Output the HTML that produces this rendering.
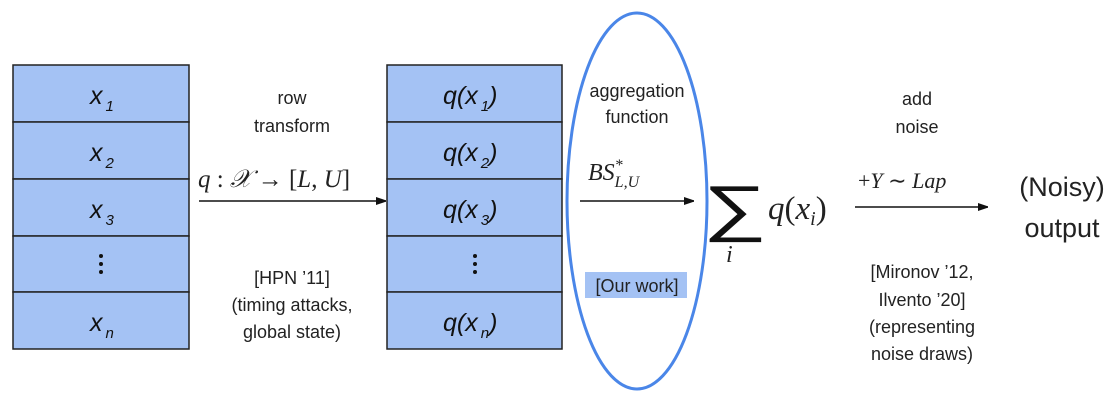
<!DOCTYPE html>
<html><head><style>
body{margin:0;background:#fff;}
svg text{font-family:"Liberation Sans",sans-serif;}
.c{font-family:"DejaVu Sans","Liberation Sans",sans-serif;font-size:18px;fill:#222;}
.m{font-family:"Liberation Serif",serif;font-style:italic;fill:#222;}
.t{font-style:italic;font-size:25px;fill:#111;}
</style></head><body>
<svg width="1116" height="406" viewBox="0 0 1116 406" xmlns="http://www.w3.org/2000/svg">
<defs><marker id="a" markerWidth="10" markerHeight="8" refX="10" refY="4" orient="auto" markerUnits="userSpaceOnUse"><path d="M0,0 L12,4 L0,8z" fill="#111"/></marker></defs>
<g stroke="#222" stroke-width="1.5" fill="#a4c2f4">
<rect x="13" y="65" width="176" height="57"/><rect x="13" y="122" width="176" height="57"/><rect x="13" y="179" width="176" height="57"/><rect x="13" y="236" width="176" height="56"/><rect x="13" y="292" width="176" height="57"/>
<rect x="387" y="65" width="175" height="57"/><rect x="387" y="122" width="175" height="57"/><rect x="387" y="179" width="175" height="57"/><rect x="387" y="236" width="175" height="56"/><rect x="387" y="292" width="175" height="57"/>
</g>
<g class="t">
<text x="90" y="104">x<tspan font-size="15" dx="3" dy="7">1</tspan></text>
<text x="90" y="161">x<tspan font-size="15" dx="3" dy="7">2</tspan></text>
<text x="90" y="218">x<tspan font-size="15" dx="3" dy="7">3</tspan></text>
<text x="90" y="331">x<tspan font-size="15" dx="3" dy="7">n</tspan></text>
<text x="443" y="104">q(x<tspan font-size="15" dx="3" dy="7">1</tspan><tspan dy="-7">)</tspan></text>
<text x="443" y="161">q(x<tspan font-size="15" dx="3" dy="7">2</tspan><tspan dy="-7">)</tspan></text>
<text x="443" y="218">q(x<tspan font-size="15" dx="3" dy="7">3</tspan><tspan dy="-7">)</tspan></text>
<text x="443" y="331">q(x<tspan font-size="15" dx="3" dy="7">n</tspan><tspan dy="-7">)</tspan></text>
</g>
<g fill="#111"><circle cx="101" cy="256" r="2"/><circle cx="101" cy="264" r="2"/><circle cx="101" cy="272" r="2"/>
<circle cx="475" cy="256" r="2"/><circle cx="475" cy="264" r="2"/><circle cx="475" cy="272" r="2"/></g>
<ellipse cx="637" cy="201" rx="70" ry="188" fill="none" stroke="#4a86e8" stroke-width="3"/>
<g stroke="#111" stroke-width="1.5" marker-end="url(#a)">
<line x1="199" y1="201" x2="386" y2="201"/><line x1="580" y1="201" x2="694" y2="201"/><line x1="855" y1="207" x2="988" y2="207"/>
</g>
<g class="c" text-anchor="middle">
<text x="292" y="104">row</text><text x="292" y="132">transform</text>
<text x="292" y="284">[HPN ’11]</text><text x="292" y="311">(timing attacks,</text><text x="292" y="338">global state)</text>
<text x="637" y="97">aggregation</text><text x="637" y="123">function</text>
<rect x="585" y="272" width="102" height="26" fill="#a4c2f4"/>
<text x="637" y="292">[Our work]</text>
<text x="917" y="105">add</text><text x="917" y="133">noise</text>
<text x="922" y="278">[Mironov ’12,</text><text x="922" y="306">Ilvento ’20]</text><text x="922" y="333">(representing</text><text x="922" y="360">noise draws)</text>
<text x="1062" y="196" font-size="27">(Noisy)</text><text x="1062" y="237" font-size="27">output</text>
</g>
<text class="m" x="198" y="187" font-size="25" style="font-style:normal">
<tspan font-style="italic">q</tspan> : <tspan font-style="italic">𝒳</tspan> → [<tspan font-style="italic">L</tspan>, <tspan font-style="italic">U</tspan>]</text>
<text class="m" x="588" y="180" font-size="24">BS<tspan font-size="16" dy="-10">*</tspan><tspan font-size="16" dx="-8" dy="17">L,U</tspan></text>
<text x="0" y="0" font-size="62" font-family="DejaVu Serif,serif" fill="#111" transform="translate(703,229) scale(1.45,1)">∑</text>
<text class="m" x="726" y="262" font-size="24">i</text>
<text class="m" x="768" y="219" font-size="33"><tspan>q</tspan><tspan style="font-style:normal">(</tspan>x<tspan font-size="20" dy="6">i</tspan><tspan dy="-6" style="font-style:normal">)</tspan></text>
<text class="m" x="858" y="188" font-size="22"><tspan style="font-style:normal">+</tspan>Y <tspan style="font-style:normal">∼</tspan> Lap</text>
</svg>
</body></html>
